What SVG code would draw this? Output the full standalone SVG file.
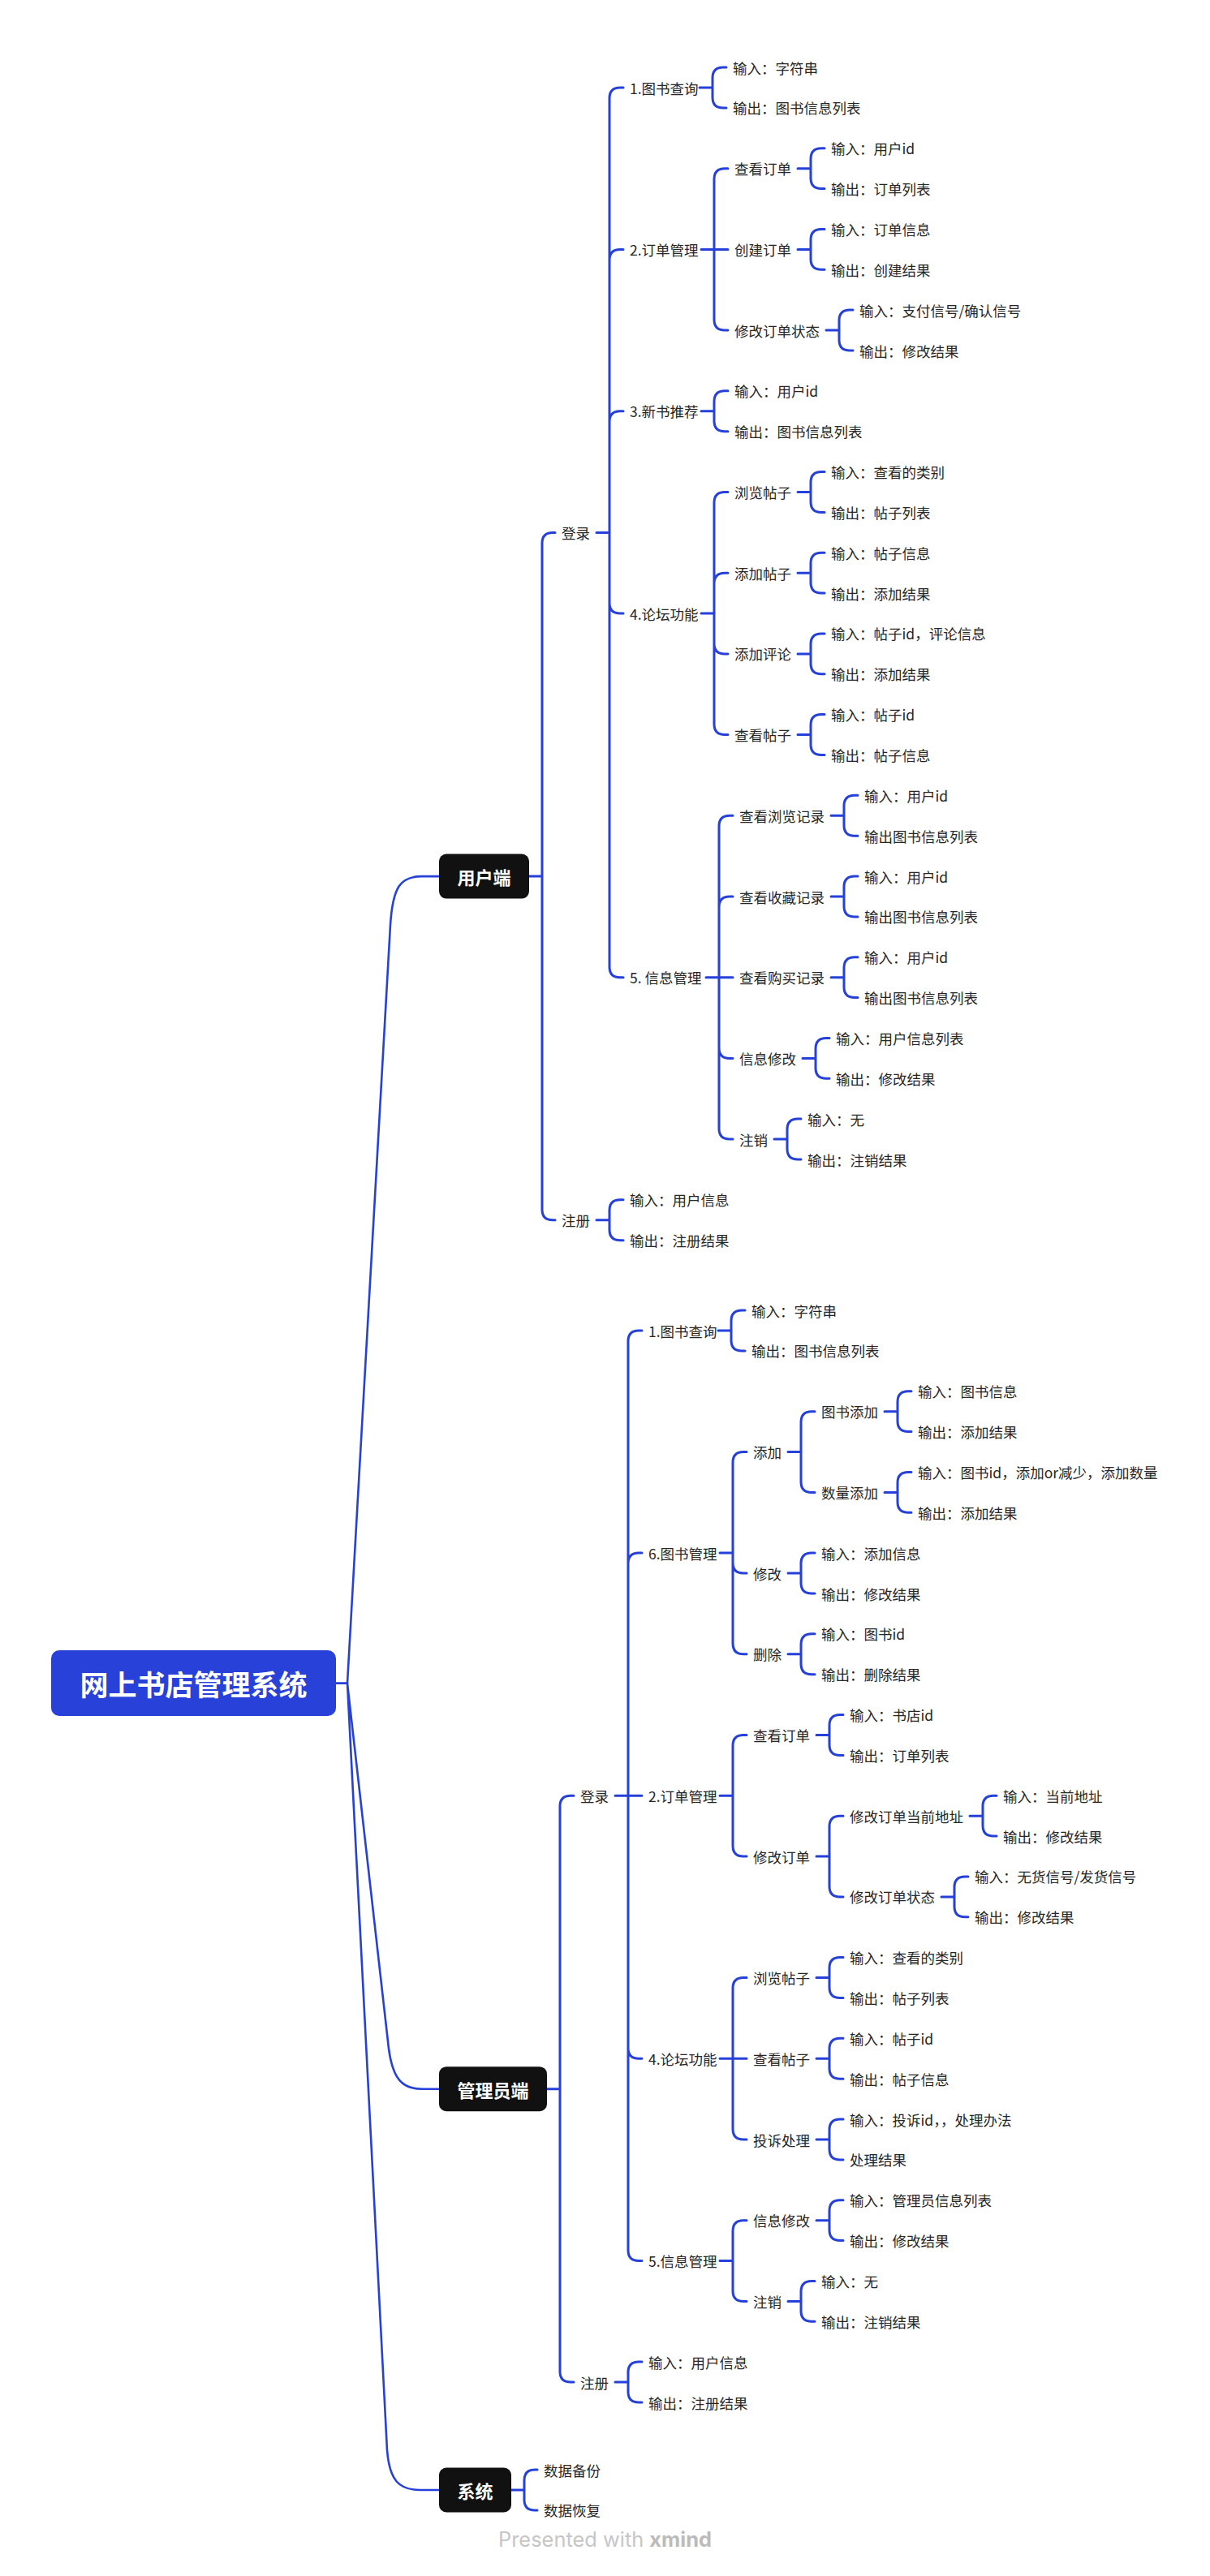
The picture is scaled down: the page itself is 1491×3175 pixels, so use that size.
<svg xmlns="http://www.w3.org/2000/svg" width="1491" height="3175" viewBox="0 0 1491 3175">
<style>
.c{fill:none;stroke:#2541D9;stroke-width:3;stroke-linecap:round;stroke-linejoin:round}
.r{fill:none;stroke:#2541D9;stroke-width:2.6;stroke-linecap:round;stroke-linejoin:round}
.t{font-family:"Noto Sans CJK SC","Noto Sans",sans-serif;font-size:17.5px;fill:#262626;dominant-baseline:central}
.m{font-family:"Noto Sans CJK SC","Noto Sans",sans-serif;font-weight:700;font-size:22px;fill:#fff;text-anchor:middle;dominant-baseline:central}
.box{fill:#111111}
.rootbox{fill:#2741D9}
.rt{font-family:"Noto Sans CJK SC","Noto Sans",sans-serif;font-weight:700;font-size:35px;fill:#fff;text-anchor:middle;dominant-baseline:central}
.wm{font-family:"Inter","Liberation Sans",sans-serif;font-size:25px;fill:#c6c6c6}
</style>
<rect width="1491" height="3175" fill="#ffffff"/>
<g id="connectors">
<path class="r" d="M414,2074.6H428 M428,2074.6L481,1140C484,1092 494,1080.1 520,1080.1H541 M428,2074.6L479,2525C484,2563 496,2574.7 520,2574.7H541 M428,2074.6L477,3020C480,3058 492,3069 518,3069H541"/>
<path class="c" d="M652,1080.1H668 M668,1080.1V669.4Q668,656.4 681,656.4H684 M668,1080.1V1490.8Q668,1503.8 681,1503.8H684"/>
<path class="c" d="M735,656.4H751 M751,656.4V121Q751,108 764,108H768 M751,656.4V320.4Q751,307.4 764,307.4H768 M751,656.4V519.8Q751,506.8 764,506.8H768 M751,656.4V743Q751,756 764,756H768 M751,656.4V1191.7Q751,1204.7 764,1204.7H768"/>
<path class="c" d="M735,1503.8H751 M751,1503.8V1491.8Q751,1478.8 764,1478.8H768 M751,1503.8V1515.7Q751,1528.7 764,1528.7H768"/>
<path class="c" d="M862,108H878 M878,108V96Q878,83 891,83H895 M878,108V119.9Q878,132.9 891,132.9H895"/>
<path class="c" d="M864,307.4H897 M880,307.4V220.7Q880,207.7 893,207.7H897 M880,307.4V394.1Q880,407.1 893,407.1H897"/>
<path class="c" d="M983,207.7H999 M999,207.7V195.7Q999,182.7 1012,182.7H1016 M999,207.7V219.6Q999,232.6 1012,232.6H1016"/>
<path class="c" d="M983,307.4H999 M999,307.4V295.4Q999,282.4 1012,282.4H1016 M999,307.4V319.3Q999,332.3 1012,332.3H1016"/>
<path class="c" d="M1018,407.1H1034 M1034,407.1V395.1Q1034,382.1 1047,382.1H1051 M1034,407.1V419Q1034,432 1047,432H1051"/>
<path class="c" d="M864,506.8H880 M880,506.8V494.8Q880,481.8 893,481.8H897 M880,506.8V518.7Q880,531.7 893,531.7H897"/>
<path class="c" d="M864,756H880 M880,756V619.5Q880,606.5 893,606.5H897 M880,756V719.2Q880,706.2 893,706.2H897 M880,756V792.9Q880,805.9 893,805.9H897 M880,756V892.6Q880,905.6 893,905.6H897"/>
<path class="c" d="M983,606.5H999 M999,606.5V594.5Q999,581.5 1012,581.5H1016 M999,606.5V618.4Q999,631.4 1012,631.4H1016"/>
<path class="c" d="M983,706.2H999 M999,706.2V694.2Q999,681.2 1012,681.2H1016 M999,706.2V718.1Q999,731.1 1012,731.1H1016"/>
<path class="c" d="M983,805.9H999 M999,805.9V793.9Q999,780.9 1012,780.9H1016 M999,805.9V817.8Q999,830.8 1012,830.8H1016"/>
<path class="c" d="M983,905.6H999 M999,905.6V893.6Q999,880.6 1012,880.6H1016 M999,905.6V917.5Q999,930.5 1012,930.5H1016"/>
<path class="c" d="M870,1204.7H903 M886,1204.7V1018.3Q886,1005.3 899,1005.3H903 M886,1204.7V1118Q886,1105 899,1105H903 M886,1204.7V1291.4Q886,1304.4 899,1304.4H903 M886,1204.7V1391.1Q886,1404.1 899,1404.1H903"/>
<path class="c" d="M1024,1005.3H1040 M1040,1005.3V993.3Q1040,980.3 1053,980.3H1057 M1040,1005.3V1017.2Q1040,1030.2 1053,1030.2H1057"/>
<path class="c" d="M1024,1105H1040 M1040,1105V1093Q1040,1080 1053,1080H1057 M1040,1105V1116.9Q1040,1129.9 1053,1129.9H1057"/>
<path class="c" d="M1024,1204.7H1040 M1040,1204.7V1192.7Q1040,1179.7 1053,1179.7H1057 M1040,1204.7V1216.6Q1040,1229.6 1053,1229.6H1057"/>
<path class="c" d="M989,1304.4H1005 M1005,1304.4V1292.4Q1005,1279.4 1018,1279.4H1022 M1005,1304.4V1316.3Q1005,1329.3 1018,1329.3H1022"/>
<path class="c" d="M954,1404.1H970 M970,1404.1V1392.1Q970,1379.1 983,1379.1H987 M970,1404.1V1416Q970,1429 983,1429H987"/>
<path class="c" d="M674,2574.7H690 M690,2574.7V2226.2Q690,2213.2 703,2213.2H707 M690,2574.7V2923.1Q690,2936.1 703,2936.1H707"/>
<path class="c" d="M758,2213.2H791 M774,2213.2V1653Q774,1640 787,1640H791 M774,2213.2V1927.1Q774,1914.1 787,1914.1H791 M774,2213.2V2524.3Q774,2537.3 787,2537.3H791 M774,2213.2V2773.5Q774,2786.5 787,2786.5H791"/>
<path class="c" d="M758,2936.1H774 M774,2936.1V2924.1Q774,2911.1 787,2911.1H791 M774,2936.1V2948Q774,2961 787,2961H791"/>
<path class="c" d="M885,1640H901 M901,1640V1628Q901,1615 914,1615H918 M901,1640V1651.9Q901,1664.9 914,1664.9H918"/>
<path class="c" d="M887,1914.1H903 M903,1914.1V1802.5Q903,1789.5 916,1789.5H920 M903,1914.1V1926.1Q903,1939.1 916,1939.1H920 M903,1914.1V2025.8Q903,2038.8 916,2038.8H920"/>
<path class="c" d="M971,1789.5H987 M987,1789.5V1752.7Q987,1739.7 1000,1739.7H1004 M987,1789.5V1826.4Q987,1839.4 1000,1839.4H1004"/>
<path class="c" d="M1090,1739.7H1106 M1106,1739.7V1727.7Q1106,1714.7 1119,1714.7H1123 M1106,1739.7V1751.6Q1106,1764.6 1119,1764.6H1123"/>
<path class="c" d="M1090,1839.4H1106 M1106,1839.4V1827.4Q1106,1814.4 1119,1814.4H1123 M1106,1839.4V1851.3Q1106,1864.3 1119,1864.3H1123"/>
<path class="c" d="M971,1939.1H987 M987,1939.1V1927.1Q987,1914.1 1000,1914.1H1004 M987,1939.1V1951Q987,1964 1000,1964H1004"/>
<path class="c" d="M971,2038.8H987 M987,2038.8V2026.8Q987,2013.8 1000,2013.8H1004 M987,2038.8V2050.7Q987,2063.7 1000,2063.7H1004"/>
<path class="c" d="M887,2213.2H903 M903,2213.2V2151.5Q903,2138.5 916,2138.5H920 M903,2213.2V2275Q903,2288 916,2288H920"/>
<path class="c" d="M1006,2138.5H1022 M1022,2138.5V2126.5Q1022,2113.5 1035,2113.5H1039 M1022,2138.5V2150.4Q1022,2163.4 1035,2163.4H1039"/>
<path class="c" d="M1006,2288H1022 M1022,2288V2251.2Q1022,2238.2 1035,2238.2H1039 M1022,2288V2324.9Q1022,2337.9 1035,2337.9H1039"/>
<path class="c" d="M1195,2238.2H1211 M1211,2238.2V2226.2Q1211,2213.2 1224,2213.2H1228 M1211,2238.2V2250.1Q1211,2263.1 1224,2263.1H1228"/>
<path class="c" d="M1160,2337.9H1176 M1176,2337.9V2325.9Q1176,2312.9 1189,2312.9H1193 M1176,2337.9V2349.8Q1176,2362.8 1189,2362.8H1193"/>
<path class="c" d="M887,2537.3H920 M903,2537.3V2450.6Q903,2437.6 916,2437.6H920 M903,2537.3V2624Q903,2637 916,2637H920"/>
<path class="c" d="M1006,2437.6H1022 M1022,2437.6V2425.6Q1022,2412.6 1035,2412.6H1039 M1022,2437.6V2449.5Q1022,2462.5 1035,2462.5H1039"/>
<path class="c" d="M1006,2537.3H1022 M1022,2537.3V2525.3Q1022,2512.3 1035,2512.3H1039 M1022,2537.3V2549.2Q1022,2562.2 1035,2562.2H1039"/>
<path class="c" d="M1006,2637H1022 M1022,2637V2625Q1022,2612 1035,2612H1039 M1022,2637V2648.9Q1022,2661.9 1035,2661.9H1039"/>
<path class="c" d="M887,2786.5H903 M903,2786.5V2749.7Q903,2736.7 916,2736.7H920 M903,2786.5V2823.4Q903,2836.4 916,2836.4H920"/>
<path class="c" d="M1006,2736.7H1022 M1022,2736.7V2724.7Q1022,2711.7 1035,2711.7H1039 M1022,2736.7V2748.6Q1022,2761.6 1035,2761.6H1039"/>
<path class="c" d="M971,2836.4H987 M987,2836.4V2824.4Q987,2811.4 1000,2811.4H1004 M987,2836.4V2848.3Q987,2861.3 1000,2861.3H1004"/>
<path class="c" d="M630,3069H646 M646,3069V3057.1Q646,3044.1 659,3044.1H662 M646,3069V3080.9Q646,3093.9 659,3093.9H662"/>
</g>
<g id="root"><rect class="rootbox" x="63" y="2034" width="351" height="81" rx="10"/><text class="rt" x="238.5" y="2074.6">网上书店管理系统</text></g>
<g id="user"><rect class="box" x="541" y="1052.6" width="111" height="55" rx="9"/><text class="m" x="596.5" y="1080.1">用户端</text></g>
<g id="u-login"><text class="t" x="692" y="656.4">登录</text></g>
<g id="u-reg"><text class="t" x="692" y="1503.8">注册</text></g>
<g id="u-reg-in"><text class="t" x="776" y="1478.8">输入：用户信息</text></g>
<g id="u-reg-out"><text class="t" x="776" y="1528.7">输出：注册结果</text></g>
<g id="u-q"><text class="t" x="776" y="108">1.图书查询</text></g>
<g id="u-q-in"><text class="t" x="903" y="83">输入：字符串</text></g>
<g id="u-q-out"><text class="t" x="903" y="132.9">输出：图书信息列表</text></g>
<g id="u-o"><text class="t" x="776" y="307.4">2.订单管理</text></g>
<g id="u-o-view"><text class="t" x="905" y="207.7">查看订单</text></g>
<g id="u-o-view-in"><text class="t" x="1024" y="182.7">输入：用户id</text></g>
<g id="u-o-view-out"><text class="t" x="1024" y="232.6">输出：订单列表</text></g>
<g id="u-o-create"><text class="t" x="905" y="307.4">创建订单</text></g>
<g id="u-o-create-in"><text class="t" x="1024" y="282.4">输入：订单信息</text></g>
<g id="u-o-create-out"><text class="t" x="1024" y="332.3">输出：创建结果</text></g>
<g id="u-o-state"><text class="t" x="905" y="407.1">修改订单状态</text></g>
<g id="u-o-state-in"><text class="t" x="1059" y="382.1">输入：支付信号/确认信号</text></g>
<g id="u-o-state-out"><text class="t" x="1059" y="432">输出：修改结果</text></g>
<g id="u-new"><text class="t" x="776" y="506.8">3.新书推荐</text></g>
<g id="u-new-in"><text class="t" x="905" y="481.8">输入：用户id</text></g>
<g id="u-new-out"><text class="t" x="905" y="531.7">输出：图书信息列表</text></g>
<g id="u-f"><text class="t" x="776" y="756">4.论坛功能</text></g>
<g id="u-f-browse"><text class="t" x="905" y="606.5">浏览帖子</text></g>
<g id="u-f-browse-in"><text class="t" x="1024" y="581.5">输入：查看的类别</text></g>
<g id="u-f-browse-out"><text class="t" x="1024" y="631.4">输出：帖子列表</text></g>
<g id="u-f-add"><text class="t" x="905" y="706.2">添加帖子</text></g>
<g id="u-f-add-in"><text class="t" x="1024" y="681.2">输入：帖子信息</text></g>
<g id="u-f-add-out"><text class="t" x="1024" y="731.1">输出：添加结果</text></g>
<g id="u-f-cmt"><text class="t" x="905" y="805.9">添加评论</text></g>
<g id="u-f-cmt-in"><text class="t" x="1024" y="780.9">输入：帖子id，评论信息</text></g>
<g id="u-f-cmt-out"><text class="t" x="1024" y="830.8">输出：添加结果</text></g>
<g id="u-f-view"><text class="t" x="905" y="905.6">查看帖子</text></g>
<g id="u-f-view-in"><text class="t" x="1024" y="880.6">输入：帖子id</text></g>
<g id="u-f-view-out"><text class="t" x="1024" y="930.5">输出：帖子信息</text></g>
<g id="u-i"><text class="t" x="776" y="1204.7">5. 信息管理</text></g>
<g id="u-i-browse"><text class="t" x="911" y="1005.3">查看浏览记录</text></g>
<g id="u-i-browse-in"><text class="t" x="1065" y="980.3">输入：用户id</text></g>
<g id="u-i-browse-out"><text class="t" x="1065" y="1030.2">输出图书信息列表</text></g>
<g id="u-i-fav"><text class="t" x="911" y="1105">查看收藏记录</text></g>
<g id="u-i-fav-in"><text class="t" x="1065" y="1080">输入：用户id</text></g>
<g id="u-i-fav-out"><text class="t" x="1065" y="1129.9">输出图书信息列表</text></g>
<g id="u-i-buy"><text class="t" x="911" y="1204.7">查看购买记录</text></g>
<g id="u-i-buy-in"><text class="t" x="1065" y="1179.7">输入：用户id</text></g>
<g id="u-i-buy-out"><text class="t" x="1065" y="1229.6">输出图书信息列表</text></g>
<g id="u-i-mod"><text class="t" x="911" y="1304.4">信息修改</text></g>
<g id="u-i-mod-in"><text class="t" x="1030" y="1279.4">输入：用户信息列表</text></g>
<g id="u-i-mod-out"><text class="t" x="1030" y="1329.3">输出：修改结果</text></g>
<g id="u-i-del"><text class="t" x="911" y="1404.1">注销</text></g>
<g id="u-i-del-in"><text class="t" x="995" y="1379.1">输入：无</text></g>
<g id="u-i-del-out"><text class="t" x="995" y="1429">输出：注销结果</text></g>
<g id="admin"><rect class="box" x="541" y="2547.2" width="133" height="55" rx="9"/><text class="m" x="607.5" y="2574.7">管理员端</text></g>
<g id="a-login"><text class="t" x="715" y="2213.2">登录</text></g>
<g id="a-reg"><text class="t" x="715" y="2936.1">注册</text></g>
<g id="a-reg-in"><text class="t" x="799" y="2911.1">输入：用户信息</text></g>
<g id="a-reg-out"><text class="t" x="799" y="2961">输出：注册结果</text></g>
<g id="a-q"><text class="t" x="799" y="1640">1.图书查询</text></g>
<g id="a-q-in"><text class="t" x="926" y="1615">输入：字符串</text></g>
<g id="a-q-out"><text class="t" x="926" y="1664.9">输出：图书信息列表</text></g>
<g id="a-b"><text class="t" x="799" y="1914.1">6.图书管理</text></g>
<g id="a-b-add"><text class="t" x="928" y="1789.5">添加</text></g>
<g id="a-b-add-book"><text class="t" x="1012" y="1739.7">图书添加</text></g>
<g id="a-b-add-book-in"><text class="t" x="1131" y="1714.7">输入：图书信息</text></g>
<g id="a-b-add-book-out"><text class="t" x="1131" y="1764.6">输出：添加结果</text></g>
<g id="a-b-add-num"><text class="t" x="1012" y="1839.4">数量添加</text></g>
<g id="a-b-add-num-in"><text class="t" x="1131" y="1814.4">输入：图书id，添加or减少，添加数量</text></g>
<g id="a-b-add-num-out"><text class="t" x="1131" y="1864.3">输出：添加结果</text></g>
<g id="a-b-mod"><text class="t" x="928" y="1939.1">修改</text></g>
<g id="a-b-mod-in"><text class="t" x="1012" y="1914.1">输入：添加信息</text></g>
<g id="a-b-mod-out"><text class="t" x="1012" y="1964">输出：修改结果</text></g>
<g id="a-b-del"><text class="t" x="928" y="2038.8">删除</text></g>
<g id="a-b-del-in"><text class="t" x="1012" y="2013.8">输入：图书id</text></g>
<g id="a-b-del-out"><text class="t" x="1012" y="2063.7">输出：删除结果</text></g>
<g id="a-o"><text class="t" x="799" y="2213.2">2.订单管理</text></g>
<g id="a-o-view"><text class="t" x="928" y="2138.5">查看订单</text></g>
<g id="a-o-view-in"><text class="t" x="1047" y="2113.5">输入：书店id</text></g>
<g id="a-o-view-out"><text class="t" x="1047" y="2163.4">输出：订单列表</text></g>
<g id="a-o-mod"><text class="t" x="928" y="2288">修改订单</text></g>
<g id="a-o-mod-addr"><text class="t" x="1047" y="2238.2">修改订单当前地址</text></g>
<g id="a-o-mod-addr-in"><text class="t" x="1236" y="2213.2">输入：当前地址</text></g>
<g id="a-o-mod-addr-out"><text class="t" x="1236" y="2263.1">输出：修改结果</text></g>
<g id="a-o-mod-state"><text class="t" x="1047" y="2337.9">修改订单状态</text></g>
<g id="a-o-mod-state-in"><text class="t" x="1201" y="2312.9">输入：无货信号/发货信号</text></g>
<g id="a-o-mod-state-out"><text class="t" x="1201" y="2362.8">输出：修改结果</text></g>
<g id="a-f"><text class="t" x="799" y="2537.3">4.论坛功能</text></g>
<g id="a-f-browse"><text class="t" x="928" y="2437.6">浏览帖子</text></g>
<g id="a-f-browse-in"><text class="t" x="1047" y="2412.6">输入：查看的类别</text></g>
<g id="a-f-browse-out"><text class="t" x="1047" y="2462.5">输出：帖子列表</text></g>
<g id="a-f-view"><text class="t" x="928" y="2537.3">查看帖子</text></g>
<g id="a-f-view-in"><text class="t" x="1047" y="2512.3">输入：帖子id</text></g>
<g id="a-f-view-out"><text class="t" x="1047" y="2562.2">输出：帖子信息</text></g>
<g id="a-f-comp"><text class="t" x="928" y="2637">投诉处理</text></g>
<g id="a-f-comp-in"><text class="t" x="1047" y="2612">输入：投诉id，，处理办法</text></g>
<g id="a-f-comp-out"><text class="t" x="1047" y="2661.9">处理结果</text></g>
<g id="a-i"><text class="t" x="799" y="2786.5">5.信息管理</text></g>
<g id="a-i-mod"><text class="t" x="928" y="2736.7">信息修改</text></g>
<g id="a-i-mod-in"><text class="t" x="1047" y="2711.7">输入：管理员信息列表</text></g>
<g id="a-i-mod-out"><text class="t" x="1047" y="2761.6">输出：修改结果</text></g>
<g id="a-i-del"><text class="t" x="928" y="2836.4">注销</text></g>
<g id="a-i-del-in"><text class="t" x="1012" y="2811.4">输入：无</text></g>
<g id="a-i-del-out"><text class="t" x="1012" y="2861.3">输出：注销结果</text></g>
<g id="sys"><rect class="box" x="541" y="3041.5" width="89" height="55" rx="9"/><text class="m" x="585.5" y="3069">系统</text></g>
<g id="sys-backup"><text class="t" x="670" y="3044.1">数据备份</text></g>
<g id="sys-restore"><text class="t" x="670" y="3093.9">数据恢复</text></g>
<text class="wm" x="614" y="3139" textLength="263" lengthAdjust="spacingAndGlyphs">Presented with <tspan font-weight="700" fill="#bbbbbb">xmind</tspan></text>
</svg>
